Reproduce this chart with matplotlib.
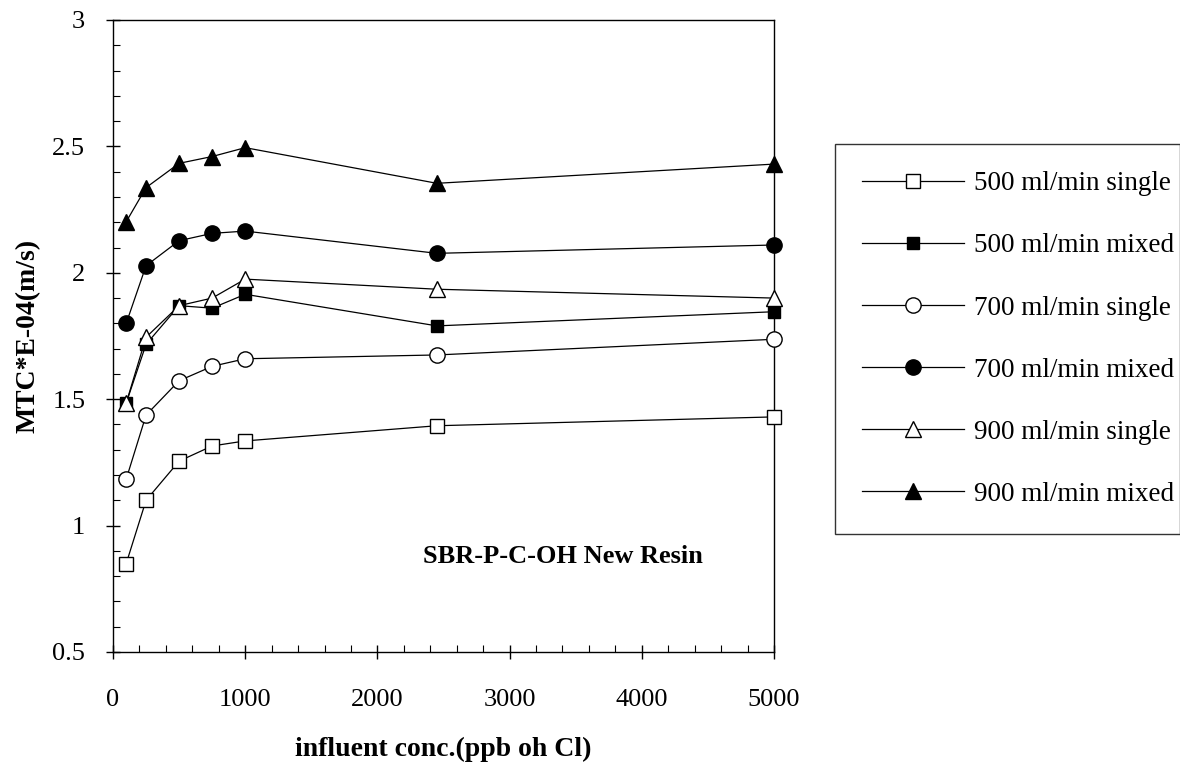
import matplotlib
matplotlib.use("Agg")
import matplotlib.pyplot as plt
from matplotlib.ticker import MultipleLocator

conc = [100, 250, 500, 750, 1000, 2450, 5000]
s500_single = [0.85, 1.10, 1.255, 1.315, 1.335, 1.395, 1.43]
s500_mixed = [1.485, 1.717, 1.87, 1.86, 1.915, 1.79, 1.846]
s700_single = [1.184, 1.437, 1.573, 1.63, 1.66, 1.675, 1.737]
s700_mixed = [1.80, 2.028, 2.127, 2.156, 2.165, 2.077, 2.11]
s900_single = [1.485, 1.745, 1.87, 1.90, 1.975, 1.935, 1.90]
s900_mixed = [2.202, 2.337, 2.433, 2.46, 2.495, 2.354, 2.43]
labels = ["500 ml/min single", "500 ml/min mixed", "700 ml/min single",
          "700 ml/min mixed", "900 ml/min single", "900 ml/min mixed"]
yticks = [0.5, 1, 1.5, 2, 2.5, 3]
ytick_labels = ['0.5', '1', '1.5', '2', '2.5', '3']
annotation = "SBR-P-C-OH New Resin"

plt.rcParams['font.family'] = ['Liberation Serif', 'DejaVu Serif']

fig = plt.figure(figsize=(11.8, 7.66), dpi=100)
ax = fig.add_axes([113/1180, 1-652/766, (774-113)/1180, (652-20)/766])

series = [s500_single, s500_mixed, s700_single, s700_mixed, s900_single, s900_mixed]
markers = ['s', 's', 'o', 'o', '^', '^']
fills = ['white', 'black', 'white', 'black', 'white', 'black']
sizes = [10, 9, 11, 11, 11, 11]
handles = []
for ys, m, fc, ms, lab in zip(series, markers, fills, sizes, labels):
    h, = ax.plot(conc, ys, color='black', lw=0.9, marker=m, ms=ms,
                 mfc=fc, mec='black', mew=1.0, label=lab, clip_on=False, zorder=3)
    handles.append(h)

ax.set_xlim(0, 5000)
ax.set_ylim(0.5, 3)
ax.xaxis.set_major_locator(MultipleLocator(1000))
ax.xaxis.set_minor_locator(MultipleLocator(200))
ax.yaxis.set_minor_locator(MultipleLocator(0.1))
ax.set_yticks(yticks)
ax.set_yticklabels(ytick_labels)
ax.tick_params(which='major', direction='inout', length=10, width=1, labelsize=19)
ax.tick_params(axis='y', which='major', pad=15)
ax.tick_params(axis='x', which='major', pad=22)
ax.tick_params(which='minor', direction='in', length=5, width=0.8)
for sp in ax.spines.values():
    sp.set_linewidth(1.0)

ax.set_xlabel("influent conc.(ppb oh Cl)", fontsize=20, fontweight='bold', labelpad=18)
ax.set_ylabel("MTC*E-04(m/s)", fontsize=20, fontweight='bold', labelpad=8)

ax.text(3400, 0.876, annotation, fontsize=19, fontweight='bold', ha='center', va='center')

leg = fig.legend(handles=handles, labels=labels, loc='upper left',
                 bbox_to_anchor=(835/1180, 1-145/766, 345/1180, 0.001), mode='expand',
                 fontsize=19.5, frameon=True, fancybox=False, edgecolor='black',
                 handlelength=3.75, handletextpad=0.4, labelspacing=1.37,
                 borderpad=1.0, borderaxespad=0)
leg.get_frame().set_linewidth(1.0)

fig.savefig("out.png", dpi=100)
